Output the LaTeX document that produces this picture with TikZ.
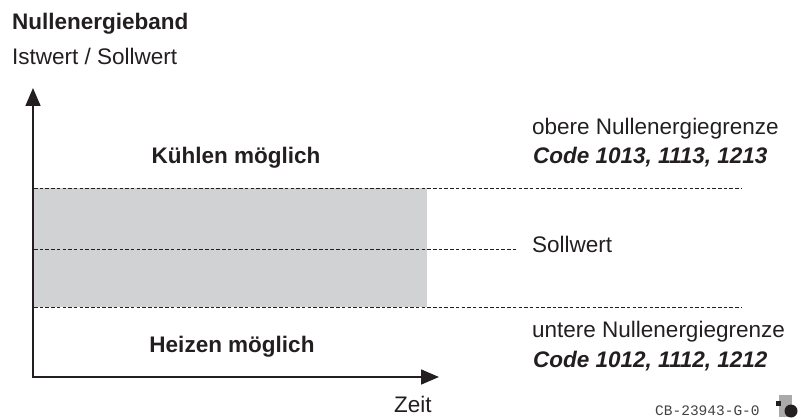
\documentclass[tikz,border=0pt]{standalone}
\usepackage{fontspec}
\setmainfont{Liberation Sans}
\setmonofont{Liberation Mono}
\usetikzlibrary{arrows.meta}
\definecolor{tinte}{RGB}{35,31,32}
\definecolor{bandgrau}{RGB}{209,210,212}
\definecolor{logograu}{RGB}{170,170,172}
\tikzset{
  achse/.style={line width=1.6pt, draw=tinte,
    {Triangle[length=18pt,width=15pt]}-{Triangle[length=18pt,width=15pt]}},
  grenze/.style={draw=tinte, line width=0.9pt, dash pattern=on 3.5pt off 2.2pt},
  txt/.style={inner sep=0pt, anchor=base west, text=tinte,
    font=\fontsize{22.5}{27}\selectfont},
  fett/.style={txt, font=\fontsize{22.5}{27}\selectfont\bfseries},
  code/.style={txt, font=\fontsize{22.5}{27}\selectfont\bfseries\itshape},
  kennung/.style={txt, text=tinte!85, font=\fontsize{14.5}{16}\selectfont\ttfamily},
}
\begin{document}
\begin{tikzpicture}[x=1pt,y=-1pt]
\useasboundingbox (0,0) rectangle (805,419);
% Achsen und Band
\coordinate (ursprung) at (33,377);
\coordinate (yspitze) at (33,88);
\coordinate (xspitze) at (439,377);
\coordinate (oben) at (34,188);
\coordinate (obenende) at (742,188);
\coordinate (mitte) at (34,249);
\coordinate (mitteende) at (517,249);
\coordinate (unten) at (34,307);
\coordinate (untenende) at (742,307);
\fill[bandgrau] (oben) rectangle (427,307);
\draw[grenze] (oben) -- (obenende);
\draw[grenze] (mitte) -- (mitteende);
\draw[grenze] (unten) -- (untenende);
\draw[achse] (yspitze) -- (ursprung) -- (xspitze);
% Texte
\node[fett] (titel) at (12,30) {Nullenergieband};
\node[txt] (groesse) at (12,65) {Istwert / Sollwert};
\node[fett, anchor=base] (kuehlen) at (236,164) {Kühlen möglich};
\node[fett, anchor=base] (heizen) at (232,352) {Heizen möglich};
\node[txt] (obere) at (532,135) {obere Nullenergiegrenze};
\node[code] (codeoben) at (533,164) {Code 1013, 1113, 1213};
\node[txt] (sollwert) at (532,253) {Sollwert};
\node[txt] (untere) at (532,337) {untere Nullenergiegrenze};
\node[code] (codeunten) at (533,367) {Code 1012, 1112, 1212};
\node[txt] (zeit) at (394,412) {Zeit};
\node[kennung] (nummer) at (655,415) {CB-23943-G-0};
% Logo
\fill[logograu] (779,395) rectangle (792,417);
\fill[tinte] (776,401) rectangle (781,406);
\fill[tinte] (791,411) circle (6.5pt);
\end{tikzpicture}
\end{document}
